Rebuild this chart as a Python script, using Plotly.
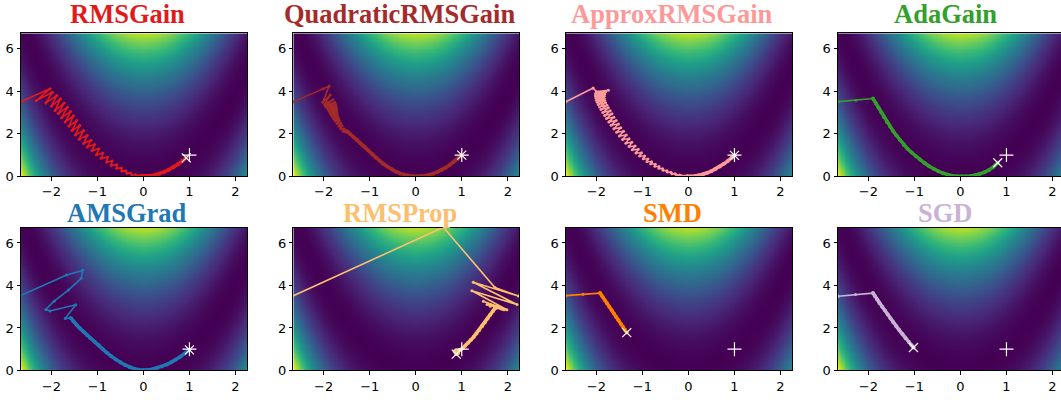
import numpy as np
import plotly.graph_objects as go

# ---------------- data ----------------
names = ["RMSGain", "QuadraticRMSGain", "ApproxRMSGain", "AdaGain",
         "AMSGrad", "RMSProp", "SMD", "SGD"]
colors = ["#e31a1c", "#a52a2a", "#fb9a99", "#33a02c",
          "#1f78b4", "#fdbf6f", "#ff7f00", "#cab2d6"]

optimum_x = [1.0]
optimum_y = [1.0]

x_ticks = [-2, -1, 0, 1, 2]
y_ticks = [0, 2, 4, 6]

# early (thin) part of every trajectory
rmsgain_early_x = [-2.66, -2.03, -2.33, -1.98, -2.12, -1.88, -2.00, -1.80, -1.92, -1.72, -1.85, -1.65,
                   -1.78, -1.58, -1.70, -1.52, -1.62, -1.45, -1.55, -1.38, -1.48, -1.30, -1.40, -1.22,
                   -1.30, -1.14, -1.22, -1.06, -1.12, -0.97, -1.02, -0.88, -0.92, -0.78, -0.80, -0.68,
                   -0.70, -0.58, -0.58, -0.48, -0.47, -0.38, -0.36, -0.28, -0.25, -0.17, -0.12, -0.05]
rmsgain_early_y = [3.51, 4.12, 3.55, 3.95, 3.45, 3.80, 3.30, 3.65, 3.10, 3.45, 2.95, 3.25,
                   2.75, 3.05, 2.55, 2.85, 2.35, 2.62, 2.15, 2.40, 1.95, 2.15, 1.75, 1.92,
                   1.55, 1.70, 1.38, 1.50, 1.20, 1.30, 1.02, 1.10, 0.85, 0.90, 0.68, 0.72,
                   0.52, 0.55, 0.38, 0.40, 0.25, 0.26, 0.15, 0.16, 0.07, 0.08, 0.03, 0.03]
rmsgain_late_x = [-0.05, 0.05, 0.15, 0.25, 0.35, 0.45, 0.55, 0.65, 0.75, 0.85, 0.93]
rmsgain_late_y = [0.03, 0.02, 0.03, 0.07, 0.13, 0.21, 0.31, 0.43, 0.57, 0.73, 0.87]

quad_early_x = [-2.66, -2.01, -1.88, -2.02, -1.86, -1.98, -1.80, -1.96, -1.76, -1.93, -1.74, -1.90,
                -1.73, -1.88, -1.72, -1.86, -1.72, -1.84, -1.71, -1.81, -1.70, -1.78, -1.68, -1.75,
                -1.66, -1.71, -1.63, -1.67, -1.60, -1.63, -1.56, -1.58, -1.52]
quad_early_y = [3.50, 4.12, 4.24, 3.48, 3.82, 3.38, 3.60, 3.30, 3.48, 3.22, 3.38, 3.14,
                3.28, 3.06, 3.18, 2.98, 3.08, 2.90, 2.98, 2.80, 2.86, 2.70, 2.74, 2.60,
                2.62, 2.48, 2.50, 2.36, 2.38, 2.24, 2.24, 2.12, 2.12]
quad_late_x = [-1.52, -1.48, -1.42, -1.35, -1.28, -1.20, -1.12, -1.04, -0.95, -0.86, -0.78, -0.70,
               -0.61, -0.52, -0.43, -0.34, -0.25, -0.16, -0.07, 0.02, 0.11, 0.20, 0.29, 0.38,
               0.47, 0.56, 0.65, 0.74, 0.82, 0.90, 0.97, 1.00]
quad_late_y = [2.12, 2.10, 1.98, 1.85, 1.72, 1.56, 1.40, 1.24, 1.06, 0.88, 0.72, 0.58,
               0.45, 0.33, 0.22, 0.14, 0.08, 0.04, 0.01, 0.00, 0.01, 0.03, 0.07, 0.13,
               0.21, 0.30, 0.41, 0.54, 0.67, 0.80, 0.93, 1.00]

approx_early_x = [-2.66, -2.07, -2.00, -1.74, -2.02, -1.80, -2.02, -1.82, -2.01, -1.83, -2.00, -1.83,
                  -1.98, -1.82, -1.96, -1.80, -1.93, -1.77, -1.90, -1.74, -1.86, -1.70, -1.82, -1.66,
                  -1.78, -1.62, -1.73, -1.57, -1.68, -1.52, -1.62, -1.47, -1.56, -1.41, -1.50, -1.35,
                  -1.43, -1.29, -1.36, -1.23, -1.29, -1.16, -1.22, -1.09, -1.14, -1.02, -1.06, -0.95,
                  -0.98, -0.88, -0.90, -0.80, -0.82, -0.72, -0.73, -0.64, -0.64, -0.56, -0.55, -0.47,
                  -0.46, -0.38, -0.36, -0.29, -0.26, -0.19, -0.15, -0.08, -0.03]
approx_early_y = [3.51, 4.15, 3.98, 4.05, 3.88, 3.96, 3.78, 3.86, 3.68, 3.76, 3.58, 3.66,
                  3.48, 3.56, 3.38, 3.46, 3.26, 3.34, 3.14, 3.22, 3.00, 3.08, 2.86, 2.94,
                  2.72, 2.78, 2.56, 2.62, 2.40, 2.46, 2.24, 2.29, 2.07, 2.12, 1.90, 1.94,
                  1.73, 1.77, 1.56, 1.60, 1.40, 1.43, 1.25, 1.27, 1.10, 1.11, 0.96, 0.96,
                  0.83, 0.82, 0.70, 0.69, 0.59, 0.57, 0.48, 0.46, 0.38, 0.36, 0.29, 0.27,
                  0.21, 0.19, 0.13, 0.12, 0.07, 0.06, 0.03, 0.02, 0.01]
approx_late_x = [-0.03, 0.05, 0.14, 0.23, 0.32, 0.41, 0.50, 0.59, 0.68, 0.77, 0.86, 0.94, 1.00]
approx_late_y = [0.01, 0.00, 0.02, 0.05, 0.10, 0.17, 0.25, 0.35, 0.46, 0.59, 0.73, 0.88, 0.99]

adagain_early_x = [-2.65, -2.27, -1.90]
adagain_early_y = [3.51, 3.58, 3.66]
adagain_late_x = [-1.90, -1.84, -1.78, -1.72, -1.66, -1.60, -1.53, -1.46, -1.39, -1.31, -1.23, -1.15,
                  -1.06, -0.97, -0.88, -0.78, -0.68, -0.58, -0.48, -0.38, -0.28, -0.18, -0.08, 0.02,
                  0.12, 0.22, 0.32, 0.42, 0.52, 0.62, 0.72, 0.81]
adagain_late_y = [3.66, 3.45, 3.22, 3.00, 2.78, 2.56, 2.34, 2.12, 1.92, 1.70, 1.48, 1.30,
                  1.12, 0.95, 0.79, 0.63, 0.48, 0.35, 0.24, 0.15, 0.08, 0.03, 0.01, 0.00,
                  0.00, 0.02, 0.06, 0.11, 0.19, 0.30, 0.45, 0.64]

amsgrad_early_x = [-2.67, -1.67, -1.32, -1.35, -1.63, -1.94, -2.12, -2.03, -1.47, -1.70, -1.58]
amsgrad_early_y = [3.52, 4.49, 4.71, 4.34, 3.78, 3.26, 2.87, 2.80, 3.09, 2.44, 2.47]
amsgrad_late_x = [-1.58, -1.52, -1.45, -1.38, -1.30, -1.23, -1.15, -1.06, -0.97, -0.88, -0.80, -0.70,
                  -0.60, -0.50, -0.40, -0.30, -0.20, -0.10, 0.00, 0.10, 0.20, 0.30, 0.40, 0.51,
                  0.60, 0.70, 0.80, 0.90, 1.00]
amsgrad_late_y = [2.47, 2.30, 2.14, 1.98, 1.82, 1.67, 1.51, 1.35, 1.18, 1.00, 0.84, 0.67,
                  0.51, 0.38, 0.26, 0.16, 0.08, 0.03, 0.01, 0.02, 0.06, 0.12, 0.19, 0.28,
                  0.38, 0.50, 0.64, 0.80, 0.97]

rmsprop_early_x = [-2.67, 0.60, 1.72, 2.23, 1.25, 2.20, 1.22, 1.98, 1.47, 1.92, 1.55, 1.88, 1.62,
                   1.85, 1.72]
rmsprop_early_y = [3.50, 6.74, 3.90, 3.50, 4.15, 3.10, 3.75, 2.86, 3.26, 2.86, 3.10, 2.88, 3.02,
                   2.90, 2.92]
rmsprop_late_x = [1.72, 1.68, 1.62, 1.56, 1.50, 1.44, 1.38, 1.32, 1.26, 1.20, 1.14, 1.08, 1.02,
                  0.97, 0.93, 0.95, 0.86, 0.92, 0.85, 0.90, 0.88]
rmsprop_late_y = [2.92, 2.80, 2.62, 2.44, 2.26, 2.08, 1.90, 1.74, 1.58, 1.44, 1.30, 1.17, 1.05,
                  0.97, 0.92, 0.95, 0.86, 0.82, 0.90, 0.80, 0.77]

smd_early_x = [-2.66, -2.29, -1.92]
smd_early_y = [3.52, 3.58, 3.64]
smd_late_x = [-1.92, -1.87, -1.82, -1.77, -1.72, -1.67, -1.62, -1.57, -1.52, -1.47, -1.42, -1.38, -1.34]
smd_late_y = [3.64, 3.48, 3.32, 3.16, 3.00, 2.84, 2.68, 2.52, 2.36, 2.20, 2.04, 1.91, 1.78]

sgd_early_x = [-2.65, -2.28, -1.90]
sgd_early_y = [3.49, 3.57, 3.64]
sgd_late_x = [-1.90, -1.86, -1.81, -1.76, -1.70, -1.64, -1.58, -1.52, -1.46, -1.40, -1.33, -1.26,
              -1.19, -1.12, -1.06, -1.02]
sgd_late_y = [3.64, 3.50, 3.34, 3.17, 3.00, 2.82, 2.63, 2.45, 2.27, 2.09, 1.90, 1.71,
              1.52, 1.34, 1.19, 1.08]

early_x = [rmsgain_early_x, quad_early_x, approx_early_x, adagain_early_x,
           amsgrad_early_x, rmsprop_early_x, smd_early_x, sgd_early_x]
early_y = [rmsgain_early_y, quad_early_y, approx_early_y, adagain_early_y,
           amsgrad_early_y, rmsprop_early_y, smd_early_y, sgd_early_y]
late_x = [rmsgain_late_x, quad_late_x, approx_late_x, adagain_late_x,
          amsgrad_late_x, rmsprop_late_x, smd_late_x, sgd_late_x]
late_y = [rmsgain_late_y, quad_late_y, approx_late_y, adagain_late_y,
          amsgrad_late_y, rmsprop_late_y, smd_late_y, sgd_late_y]

# ---------------- background: Rosenbrock surface ----------------
gx = np.linspace(-2.72, 2.3, 140)
gy = np.linspace(-0.1, 6.85, 110)
GX, GY = np.meshgrid(gx, gy)
GZ = (1 - GX) ** 2 + 100 * (GY - GX ** 2) ** 2

# ---------------- layout geometry (pixels) ----------------
W, H = 1061, 400
col_left = [21.0, 293.3, 566.0, 838.0]
panel_w = 226.0
row_top = [34.0, 232.3]
row_bot = [180.0, 378.0]
title_cx = [127.0, 399.5, 672.0, 945.0]
title_cy = [14.5, 217.5]
xr = [-2.66, 2.25]
px_per_unit = panel_w / (xr[1] - xr[0])

fig = go.Figure()
layout = {}
annotations = []

for i in range(8):
    r, c = divmod(i, 4)
    ax = "" if i == 0 else str(i + 1)
    xa, ya = "x" + ax, "y" + ax
    left = col_left[c]
    right = min(left + panel_w, W)
    x_hi = xr[0] + (right - left) / px_per_unit

    fig.add_trace(go.Heatmap(x=gx, y=gy, z=GZ, colorscale="Viridis", zmin=0, zmax=5020,
                             zsmooth="best", showscale=False, hoverinfo="skip",
                             xaxis=xa, yaxis=ya))
    fig.add_trace(go.Scatter(x=early_x[i], y=early_y[i], mode="lines+markers",
                             line=dict(color=colors[i], width=1.6),
                             marker=dict(color=colors[i], size=3),
                             showlegend=False, xaxis=xa, yaxis=ya, cliponaxis=True))
    fig.add_trace(go.Scatter(x=late_x[i], y=late_y[i], mode="lines+markers",
                             line=dict(color=colors[i], width=3.5),
                             marker=dict(color=colors[i], size=4),
                             showlegend=False, xaxis=xa, yaxis=ya, cliponaxis=True))
    fig.add_trace(go.Scatter(x=optimum_x, y=optimum_y, mode="markers",
                             marker=dict(symbol="cross-thin", size=10,
                                         line=dict(color="white", width=1.2)),
                             showlegend=False, xaxis=xa, yaxis=ya))
    fig.add_trace(go.Scatter(x=[late_x[i][-1]], y=[late_y[i][-1]], mode="markers",
                             marker=dict(symbol="x-thin", size=9,
                                         line=dict(color="white", width=1.2)),
                             showlegend=False, xaxis=xa, yaxis=ya))

    axis_common = dict(showgrid=False, zeroline=False, showline=True, linecolor="black",
                       linewidth=1, ticks="outside", ticklen=3.5, tickwidth=1, tickcolor="black",
                       tickfont=dict(family="DejaVu Sans", size=13, color="black"))
    layout["xaxis" + ax] = dict(axis_common, domain=[left / W, right / W], range=[xr[0], x_hi],
                                anchor=ya, tickvals=x_ticks, mirror=True,
                                ticklabelstandoff=(-1 if r == 0 else 0))
    layout["yaxis" + ax] = dict(axis_common, domain=[1 - row_bot[r] / H, 1 - row_top[r] / H],
                                range=[0, 6.72], anchor=xa, tickvals=y_ticks,
                                mirror=(c != 3))
    annotations.append(dict(text="<b>" + names[i] + "</b>", xref="paper", yref="paper",
                            x=title_cx[c] / W, y=1 - title_cy[r] / H, xanchor="center",
                            yanchor="middle", showarrow=False, borderpad=0,
                            font=dict(family="Liberation Serif", size=26.5, color=colors[i])))

fig.update_layout(**layout)
fig.update_layout(width=W, height=H, margin=dict(l=0, r=0, t=0, b=0),
                  paper_bgcolor="white", plot_bgcolor="white", showlegend=False,
                  annotations=annotations)
fig.write_html("out.html")
